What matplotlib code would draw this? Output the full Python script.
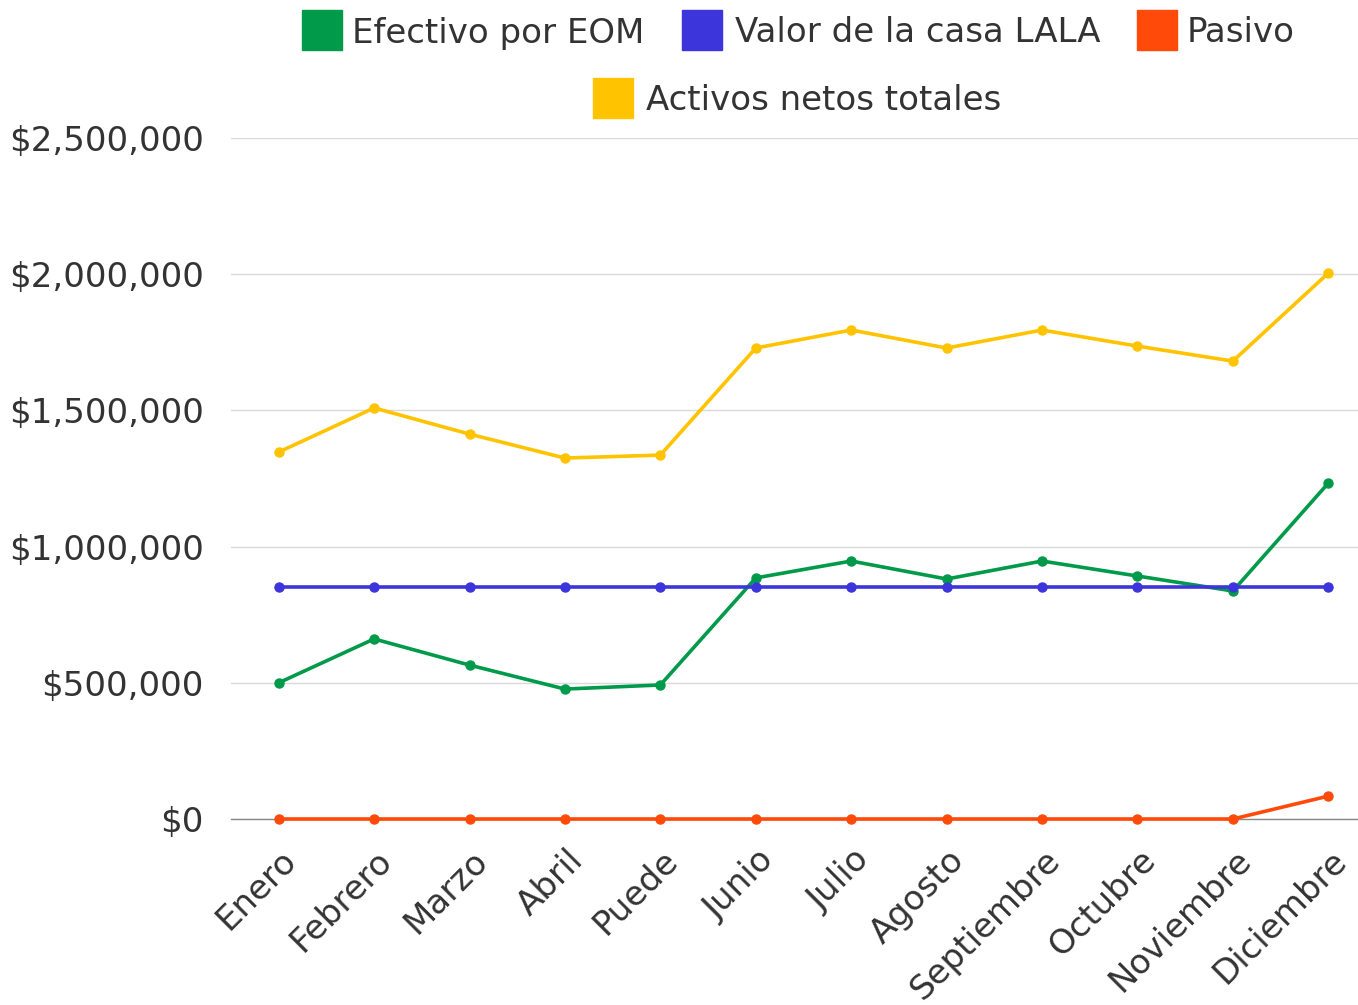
import matplotlib
matplotlib.use("Agg")
import matplotlib.pyplot as plt
from matplotlib.patches import Rectangle
from matplotlib.ticker import FuncFormatter
from matplotlib.transforms import ScaledTranslation

months = ["Enero", "Febrero", "Marzo", "Abril", "Puede", "Junio", "Julio",
          "Agosto", "Septiembre", "Octubre", "Noviembre", "Diciembre"]
efectivo = [500000, 661000, 565000, 477000, 492000, 885000, 947000,
            881000, 947000, 892000, 837000, 1233000]
casa = [850000] * 12
pasivo = [0, 0, 0, 0, 0, 0, 0, 0, 0, 0, 0, 84000]
activos = [1347000, 1509000, 1413000, 1325000, 1336000, 1729000, 1795000,
           1729000, 1795000, 1736000, 1681000, 2004000]

series_names = ["Efectivo por EOM", "Valor de la casa LALA", "Pasivo", "Activos netos totales"]
colors = ["#009A4A", "#3D35DC", "#FF4A0A", "#FFC300"]

plt.rcParams['font.family'] = ['DejaVu Sans']
text_color = "#333333"
fs = 24.5

fig = plt.figure(figsize=(13.58, 10.05), dpi=100)
ax = fig.add_axes([231/1358, 186/1005, 1145/1358, 681/1005])

x = list(range(len(months)))
for data, c in zip([efectivo, casa, pasivo, activos], colors):
    ax.plot(x, data, color=c, lw=2.6, marker='o', markersize=6.5, zorder=3,
            solid_capstyle='round', clip_on=False)

ax.set_xlim(-0.5, 11.5)
ax.set_ylim(0, 2500000)
ax.set_yticks([0, 500000, 1000000, 1500000, 2000000, 2500000])
ax.yaxis.set_major_formatter(FuncFormatter(lambda v, p: "${:,.0f}".format(v)))
ax.grid(axis='y', color='#d9d9d9', lw=1)
ax.set_axisbelow(True)
for s in ['top', 'right', 'left']:
    ax.spines[s].set_visible(False)
ax.spines['bottom'].set_color('#888888')
ax.spines['bottom'].set_linewidth(1)
ax.spines['bottom'].set_zorder(1)
ax.tick_params(axis='both', length=0, labelsize=fs, colors=text_color)
ax.tick_params(axis='y', pad=19.5)
ax.set_xticks(x)
ax.set_xticklabels(months, rotation=45, ha='right', va='center',
                   rotation_mode='anchor')
ax.tick_params(axis='x', pad=26)
offset = ScaledTranslation(13/100, 0, fig.dpi_scale_trans)
for lab in ax.get_xticklabels():
    lab.set_transform(lab.get_transform() + offset)

# legend drawn manually in figure pixels
W, H = 1358, 1005
legend_items = [(302, 30, 352), (682, 30, 735), (1137, 30, 1187), (593, 98, 646)]
for (px, py, tx), c, name in zip(legend_items, colors, series_names):
    fig.patches.append(Rectangle((px / W, 1 - (py + 20) / H), 40 / W, 40 / H,
                                 transform=fig.transFigure, color=c))
    fig.text(tx / W, 1 - (py + 3) / H, name, fontsize=fs, color=text_color,
             va='center', ha='left')

fig.savefig("out.png", dpi=100)
